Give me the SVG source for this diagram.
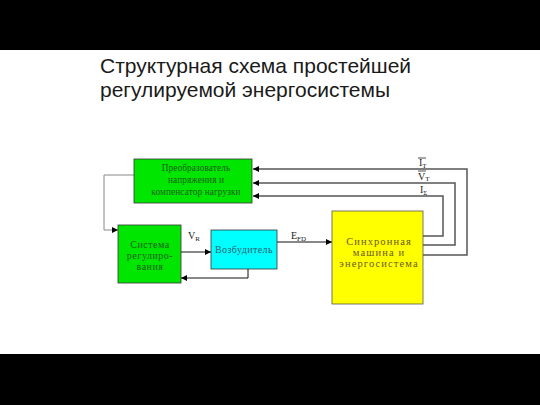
<svg xmlns="http://www.w3.org/2000/svg" width="540" height="405" viewBox="0 0 540 405">
<style>
.title{font-family:"Liberation Sans",Arial,sans-serif;font-size:21px;fill:#1a1a1a}
.bt{font-family:"Liberation Serif","Times New Roman",serif;text-anchor:middle}
.lbl{font-family:"Liberation Serif","Times New Roman",serif;font-size:10px;fill:#222}
.sub{font-size:7px}
.fb{fill:none;stroke:#555;stroke-width:1.5}
.ln{fill:none;stroke:#111;stroke-width:1}
.ov{stroke:#222;stroke-width:0.8}
</style>
<defs>
<marker id="ah" viewBox="0 0 10 10" refX="10" refY="5" markerWidth="6" markerHeight="6" markerUnits="userSpaceOnUse" orient="auto">
<path d="M0,0 L10,5 L0,10 z" fill="#000"/>
</marker>
</defs>
<rect x="0" y="0" width="540" height="405" fill="#fff"/>
<rect x="0" y="0" width="540" height="50" fill="#000"/>
<rect x="0" y="354" width="540" height="51" fill="#000"/>
<text class="title" x="100" y="73">Структурная схема простейшей</text>
<text class="title" x="100" y="97">регулируемой энергосистемы</text>

<g id="connectors">
<path d="M134,175 H104 V230 H118" fill="none" stroke="#888" stroke-width="1"/>
<path d="M112,227 L118,230 L112,233 z" fill="#000"/>
<path class="fb" d="M423,255 H467 V169 H253" marker-end="url(#ah)"/>
<path class="fb" d="M423,245 H455 V183 H253" marker-end="url(#ah)"/>
<path class="fb" d="M423,236 H443 V196 H253" marker-end="url(#ah)"/>
<path class="ln" d="M181,252 H211" marker-end="url(#ah)"/>
<path class="ln" d="M277,242 H332" marker-end="url(#ah)"/>
<path class="ln" d="M248,269 V278 H181" marker-end="url(#ah)"/>
<text class="lbl" x="188" y="239">V<tspan class="sub" dy="2">R</tspan></text>
<text class="lbl" x="291" y="239">E<tspan class="sub" dy="2">FD</tspan></text>
<text class="lbl" x="419" y="166">I<tspan class="sub" dy="1.5">T</tspan></text>
<line class="ov" x1="418" y1="158" x2="426" y2="158"/>
<text class="lbl" x="418" y="179.5">V<tspan class="sub" dy="1.5">T</tspan></text>
<line class="ov" x1="418" y1="171" x2="426" y2="171"/>
<text class="lbl" x="420" y="193">I<tspan class="sub" dy="1.5">Σ</tspan></text>
</g>

<g id="converter">
<rect x="134" y="159" width="118" height="44" fill="#00e600" stroke="#333" stroke-width="0.8"/>
<text class="bt" x="196" y="171" font-size="9.3" fill="#1a5e1a" letter-spacing="0.1">Преобразователь</text>
<text class="bt" x="196" y="183" font-size="9.3" fill="#1a5e1a" letter-spacing="0.1">напряжения и</text>
<text class="bt" x="196" y="195" font-size="9.3" fill="#1a5e1a" letter-spacing="0.1">компенсатор нагрузки</text>
</g>

<g id="regulator">
<rect x="118" y="225" width="63" height="58" fill="#00e600" stroke="#333" stroke-width="0.8"/>
<text class="bt" x="150" y="248" font-size="10" fill="#1a5e1a" letter-spacing="0.5">Система</text>
<text class="bt" x="150" y="259" font-size="10" fill="#1a5e1a" letter-spacing="0.5">регулиро-</text>
<text class="bt" x="150" y="270" font-size="10" fill="#1a5e1a" letter-spacing="0.5">вания</text>
</g>

<g id="exciter">
<rect x="211" y="230" width="66" height="39" fill="#00ffff" stroke="#333" stroke-width="0.8"/>
<text class="bt" x="244" y="253" font-size="10" fill="#2b5e6e" letter-spacing="0.4">Возбудитель</text>
</g>

<g id="machine">
<rect x="332" y="211" width="91" height="93" fill="#ffff00" stroke="#555" stroke-width="0.8"/>
<text class="bt" x="379" y="245" font-size="10.5" fill="#6b5a1a" letter-spacing="1.1">Синхронная</text>
<text class="bt" x="379" y="256" font-size="10.5" fill="#6b5a1a" letter-spacing="1.1">машина и</text>
<text class="bt" x="379" y="267" font-size="10.5" fill="#6b5a1a" letter-spacing="1.1">энергосистема</text>
</g>
</svg>
